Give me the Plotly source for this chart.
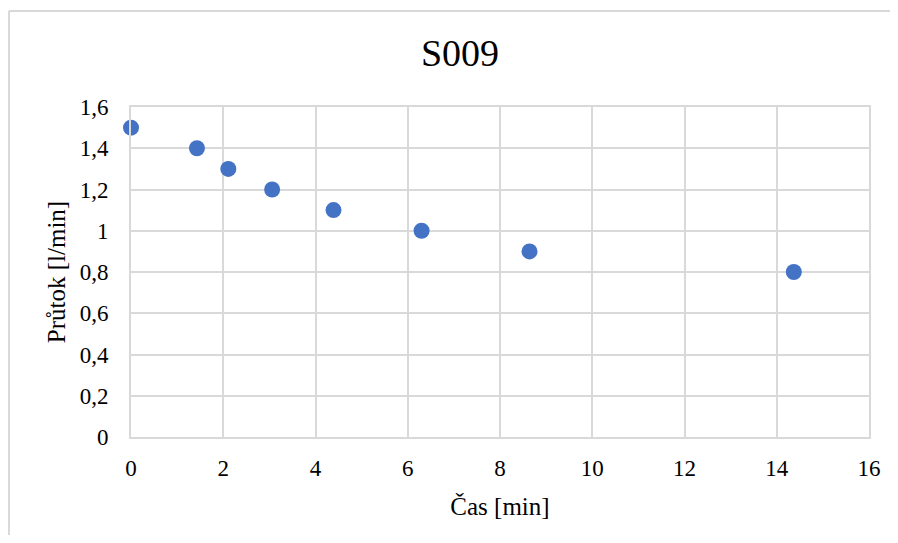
import plotly.graph_objects as go

time_min = [0, 1.43, 2.11, 3.06, 4.39, 6.30, 8.64, 14.37]
flow_lpm = [1.5, 1.4, 1.3, 1.2, 1.1, 1.0, 0.9, 0.8]

x_ticks = [0, 2, 4, 6, 8, 10, 12, 14, 16]
y_ticks = [0, 0.2, 0.4, 0.6, 0.8, 1.0, 1.2, 1.4, 1.6]
y_tick_text = ["0", "0,2", "0,4", "0,6", "0,8", "1", "1,2", "1,4", "1,6"]

FONT = "Liberation Serif"
GRID = "#d9d9d9"

fig = go.Figure()
fig.add_trace(go.Scatter(
    x=time_min, y=flow_lpm, mode="markers",
    marker=dict(size=16, color="#4472C4"),
    cliponaxis=False, showlegend=False,
))

# page has an 8px body margin; figure coordinates = page - 8
W, H = 882, 527
L, R, T, B = 123, 21, 99, 98
pw, ph = W - L - R, H - T - B

top_y = (H - B - 3) / ph
left_x = (1 - L) / pw

fig.update_layout(
    width=W, height=H,
    margin=dict(l=L, r=R, t=T, b=B),
    paper_bgcolor="white", plot_bgcolor="white",
    font=dict(family=FONT, color="black"),
    title=dict(text="S009", x=452 / W, xanchor="center", y=1 - 45 / H, yanchor="middle",
               font=dict(size=38, family=FONT, color="black")),
    xaxis=dict(
        range=[0, 16], tickvals=x_ticks, ticktext=[str(v) for v in x_ticks],
        showgrid=True, gridcolor=GRID, gridwidth=2,
        showline=True, linecolor=GRID, linewidth=2, mirror=True,
        zeroline=False, ticks="", ticklabelstandoff=9,
        tickfont=dict(size=23, family=FONT),
        title=dict(text="Čas [min]", font=dict(size=25, family=FONT), standoff=18),
        automargin=False,
    ),
    yaxis=dict(
        range=[0, 1.6], tickvals=y_ticks, ticktext=y_tick_text,
        showgrid=True, gridcolor=GRID, gridwidth=2,
        showline=True, linecolor=GRID, linewidth=2, mirror=True,
        zeroline=False, ticks="", ticklabelstandoff=16,
        tickfont=dict(size=23, family=FONT),
        title=dict(text="Průtok [l/min]", font=dict(size=25, family=FONT), standoff=7),
        automargin=False,
    ),
    shapes=[
        dict(type="line", xref="paper", yref="paper",
             x0=left_x, x1=(1100 - L) / pw, y0=top_y, y1=top_y,
             line=dict(color=GRID, width=2), layer="below"),
        dict(type="line", xref="paper", yref="paper",
             x0=left_x, x1=left_x, y0=top_y, y1=-3,
             line=dict(color=GRID, width=2), layer="below"),
    ],
)

fig.write_html("out.html")
